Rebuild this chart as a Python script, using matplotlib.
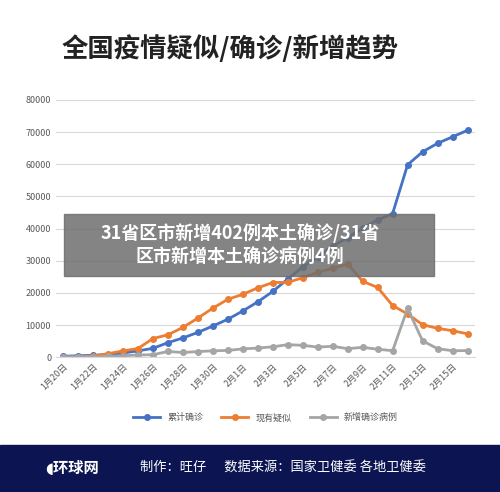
import matplotlib.pyplot as plt
from matplotlib.patches import Rectangle

plt.rcParams['font.family'] = ['Noto Sans CJK SC', 'DejaVu Sans']

dates = ['1月%d日' % d for d in range(20, 32)] + ['2月%d日' % d for d in range(1, 17)]
confirmed = [291, 440, 571, 830, 1287, 1975, 2744, 4515, 5974, 7711, 9692, 11791, 14380, 17205,
             20438, 24324, 28018, 31161, 34546, 37198, 40171, 42638, 44653, 59804, 63851, 66492, 68500, 70548]
suspected = [54, 37, 393, 1072, 1965, 2684, 5794, 6973, 9239, 12167, 15238, 17988, 19544, 21558,
             23214, 23260, 24702, 26359, 27657, 28942, 23589, 21675, 16067, 13435, 10109, 8969, 8228, 7264]
new_cases = [77, 149, 131, 259, 444, 688, 769, 1771, 1459, 1737, 1982, 2102, 2590, 2829,
             3235, 3887, 3694, 3143, 3385, 2656, 3062, 2478, 2015, 15152, 5090, 2641, 2009, 2048]

fig = plt.figure(figsize=(5, 4.92), dpi=100)
ax = fig.add_axes([0.112, 0.274, 0.838, 0.523])
x = list(range(len(dates)))
ax.plot(x, confirmed, color='#4472c4', lw=2, marker='o', ms=4, label='累计确诊')
ax.plot(x, suspected, color='#ed7d31', lw=2, marker='o', ms=4, label='现有疑似')
ax.plot(x, new_cases, color='#a5a5a5', lw=2, marker='o', ms=4, label='新增确诊病例')
ax.set_xlim(-0.47, 27.5)
ax.set_ylim(0, 80000)
ax.set_yticks(range(0, 80001, 10000))
ax.set_xticks(x[::2])
ax.set_xticklabels(dates[::2], rotation=45, ha='right', rotation_mode='anchor')
ax.tick_params(labelsize=6.5, colors='#595959', length=0)
ax.grid(axis='y', color='#d9d9d9', lw=0.8)
for s in ['top', 'right', 'left']:
    ax.spines[s].set_visible(False)
ax.spines['bottom'].set_color('#d9d9d9')
ax.legend(loc='center', bbox_to_anchor=(0.5, -0.235), ncol=3, frameon=False, fontsize=6.5,
          labelcolor='#595959', handlelength=3)

fig.text(0.46, 0.9, '全国疫情疑似/确诊/新增趋势', ha='center', va='center', fontsize=19, fontweight='bold', color='#222222')

# overlay caption box
fig.patches.append(Rectangle((0.128, 1 - 276 / 492), 0.74, 62 / 492, transform=fig.transFigure,
                             color='#6e6e6e', alpha=0.85, zorder=5))
fig.text(0.48, 1 - 245 / 492, '31省区市新增402例本土确诊/31省\n区市新增本土确诊病例4例', ha='center', va='center',
         fontsize=13, fontweight='bold', color='white', zorder=6, linespacing=1.3)

# footer band
fig.patches.append(Rectangle((0, 0), 1, 47 / 492, transform=fig.transFigure, color='#0c1552', zorder=5))
fig.text(0.09, 0.049, '◖环球网', fontsize=11, fontweight='bold', color='white', va='center', zorder=6)
fig.text(0.28, 0.049, '制作：旺仔      数据来源：国家卫健委 各地卫健委', fontsize=9.5, color='white', va='center', zorder=6)

fig.savefig('out.png', dpi=100)
